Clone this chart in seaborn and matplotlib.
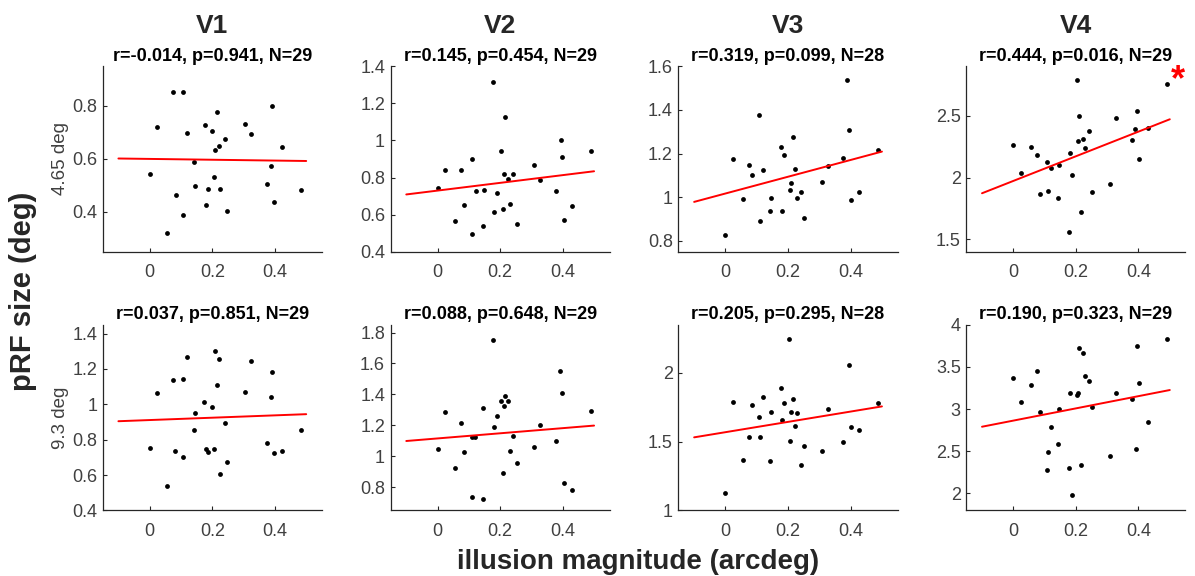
import matplotlib
matplotlib.use("Agg")
import matplotlib.pyplot as plt
import seaborn as sns
import numpy as np

# ---- data: illusion magnitude (x) vs pRF size (y) ----
areas = ["V1", "V2", "V3", "V4"]
ecc_labels = ["4.65 deg", "9.3 deg"]

stats = [
    ["r=-0.014, p=0.941, N=29", "r=0.145, p=0.454, N=29",
     "r=0.319, p=0.099, N=28", "r=0.444, p=0.016, N=29"],
    ["r=0.037, p=0.851, N=29", "r=0.088, p=0.648, N=29",
     "r=0.205, p=0.295, N=28", "r=0.190, p=0.323, N=29"],
]

# 4.65 deg row
x_v1_465 = [0.0, 0.023, 0.073, 0.083, 0.056, 0.105, 0.107, 0.12, 0.14, 0.144, 0.176, 0.18, 0.186, 0.2,
            0.205, 0.208, 0.215, 0.22, 0.226, 0.239, 0.248, 0.305, 0.324, 0.374, 0.387, 0.39, 0.398, 0.423, 0.484]
y_v1_465 = [0.542, 0.722, 0.852, 0.464, 0.322, 0.852, 0.388, 0.697, 0.590, 0.499, 0.730, 0.426, 0.488, 0.705,
            0.532, 0.633, 0.778, 0.650, 0.488, 0.676, 0.404, 0.732, 0.695, 0.504, 0.574, 0.801, 0.437, 0.647, 0.483]

x_v2_465 = [0.0, 0.024, 0.057, 0.075, 0.085, 0.109, 0.11, 0.122, 0.145, 0.147, 0.178, 0.181, 0.189, 0.203,
            0.208, 0.211, 0.216, 0.224, 0.23, 0.242, 0.253, 0.308, 0.328, 0.379, 0.393, 0.396, 0.403, 0.429, 0.49]
y_v2_465 = [0.746, 0.843, 0.564, 0.843, 0.654, 0.899, 0.497, 0.730, 0.539, 0.732, 1.315, 0.616, 0.719, 0.942,
            0.632, 0.820, 1.124, 0.791, 0.656, 0.820, 0.550, 0.867, 0.787, 0.726, 1.0, 0.910, 0.571, 0.647, 0.941]

x_v3_465 = [0.0, 0.024, 0.056, 0.075, 0.084, 0.108, 0.11, 0.121, 0.142, 0.146, 0.177, 0.181, 0.188, 0.207,
            0.21, 0.216, 0.222, 0.228, 0.24, 0.251, 0.307, 0.328, 0.377, 0.389, 0.394, 0.402, 0.428, 0.489]
y_v3_465 = [0.828, 1.175, 0.991, 1.146, 1.101, 1.376, 0.890, 1.123, 0.937, 0.998, 1.230, 0.936, 1.192, 1.035,
            1.067, 1.275, 1.129, 0.994, 1.023, 0.906, 1.071, 1.144, 1.178, 1.537, 1.308, 0.988, 1.023, 1.215]

x_v4_465 = [0.0, 0.024, 0.056, 0.076, 0.084, 0.108, 0.111, 0.122, 0.143, 0.146, 0.178, 0.182, 0.189, 0.202,
            0.207, 0.21, 0.216, 0.224, 0.23, 0.242, 0.253, 0.308, 0.328, 0.38, 0.394, 0.39, 0.403, 0.429, 0.49]
y_v4_465 = [2.267, 2.04, 2.248, 2.186, 1.865, 2.129, 1.889, 2.078, 1.833, 2.105, 1.558, 2.202, 2.022, 2.792,
            2.299, 2.499, 1.722, 2.31, 2.237, 2.377, 1.884, 1.949, 2.482, 2.302, 2.539, 2.394, 2.148, 2.399, 2.757]

# 9.3 deg row
x_v1_93 = [0.0, 0.023, 0.074, 0.082, 0.056, 0.105, 0.107, 0.12, 0.14, 0.144, 0.175, 0.18, 0.186, 0.2,
           0.205, 0.208, 0.215, 0.22, 0.226, 0.239, 0.248, 0.305, 0.324, 0.374, 0.387, 0.39, 0.398, 0.423, 0.484]
y_v1_93 = [0.753, 1.063, 1.135, 0.736, 0.537, 1.142, 0.700, 1.266, 0.856, 0.949, 1.011, 0.750, 0.729, 0.987,
           0.746, 1.302, 1.112, 1.254, 0.605, 0.896, 0.672, 1.070, 1.247, 0.780, 1.040, 1.182, 0.723, 0.736, 0.856]

x_v2_93 = [0.0, 0.024, 0.057, 0.075, 0.085, 0.109, 0.109, 0.121, 0.144, 0.146, 0.178, 0.181, 0.189, 0.203,
           0.208, 0.211, 0.216, 0.224, 0.23, 0.242, 0.253, 0.309, 0.328, 0.379, 0.392, 0.396, 0.403, 0.429, 0.49]
y_v2_93 = [1.05, 1.283, 0.926, 1.215, 1.026, 0.739, 1.126, 1.126, 0.724, 1.309, 1.752, 1.191, 1.259, 1.359,
           0.889, 1.324, 1.391, 1.359, 1.035, 1.133, 0.957, 1.061, 1.204, 1.096, 1.554, 1.407, 0.824, 0.780, 1.293]

x_v3_93 = [0.0, 0.024, 0.056, 0.075, 0.084, 0.108, 0.11, 0.121, 0.142, 0.146, 0.177, 0.181, 0.188, 0.202,
           0.207, 0.21, 0.216, 0.222, 0.23, 0.24, 0.251, 0.307, 0.328, 0.377, 0.394, 0.402, 0.428, 0.489]
y_v3_93 = [1.124, 1.791, 1.367, 1.536, 1.769, 1.680, 1.532, 1.823, 1.362, 1.718, 1.893, 1.660, 1.779, 2.245,
           1.502, 1.718, 1.813, 1.614, 1.711, 1.333, 1.471, 1.434, 1.740, 1.495, 2.058, 1.607, 1.587, 1.782]

x_v4_93 = [0.0, 0.024, 0.056, 0.075, 0.084, 0.109, 0.11, 0.122, 0.143, 0.146, 0.177, 0.181, 0.188, 0.202,
           0.207, 0.21, 0.216, 0.224, 0.23, 0.242, 0.253, 0.308, 0.328, 0.38, 0.392, 0.396, 0.403, 0.429, 0.49]
y_v4_93 = [3.365, 3.087, 3.29, 3.456, 2.968, 2.282, 2.488, 2.790, 2.583, 3.004, 2.306, 3.187, 1.976, 3.171,
           3.187, 3.726, 2.333, 3.671, 3.397, 3.337, 3.02, 2.448, 3.19, 3.119, 2.524, 3.75, 3.31, 2.845, 3.837]

data = [
    [(x_v1_465, y_v1_465), (x_v2_465, y_v2_465), (x_v3_465, y_v3_465), (x_v4_465, y_v4_465)],
    [(x_v1_93, y_v1_93), (x_v2_93, y_v2_93), (x_v3_93, y_v3_93), (x_v4_93, y_v4_93)],
]

# axis limits / ticks per panel
ylims = [
    [(0.25, 0.95), (0.4, 1.4), (0.75, 1.6), (1.4, 2.9)],
    [(0.4, 1.45), (0.65, 1.85), (1.0, 2.35), (1.8, 4.0)],
]
yticks = [
    [[0.4, 0.6, 0.8], [0.4, 0.6, 0.8, 1, 1.2, 1.4], [0.8, 1, 1.2, 1.4, 1.6], [1.5, 2, 2.5]],
    [[0.4, 0.6, 0.8, 1, 1.2, 1.4], [0.8, 1, 1.2, 1.4, 1.6, 1.8], [1, 1.5, 2], [2, 2.5, 3, 3.5, 4]],
]
xticks = [0, 0.2, 0.4]

sns.set_style("ticks")
plt.rcParams['font.family'] = ['Liberation Sans', 'DejaVu Sans']
axis_col = "#262626"

fig, axes = plt.subplots(2, 4, figsize=(11.95, 5.76), dpi=100)
plt.subplots_adjust(left=0.086, right=0.992, top=0.885, bottom=0.114, wspace=0.314, hspace=0.394)

for r in range(2):
    for c in range(4):
        ax = axes[r, c]
        xs, ys = data[r][c]
        sns.scatterplot(x=xs, y=ys, ax=ax, color="black", s=12, linewidth=0)
        # regression line spans -0.1..0.5
        ax.set_xlim(-0.1, 0.5)
        sns.regplot(x=np.array(xs), y=np.array(ys), ax=ax, scatter=False, ci=None, truncate=False,
                    color="red", line_kws={"linewidth": 1.4})
        ax.set_xlim(-0.15, 0.55)
        ax.set_ylim(*ylims[r][c])
        ax.set_xticks(xticks)
        ax.set_xticklabels([f"{t:g}" for t in xticks])
        ax.set_yticks(yticks[r][c])
        ax.set_yticklabels([f"{t:g}" for t in yticks[r][c]])
        ax.tick_params(direction="in", length=3, width=0.8, colors=axis_col, labelsize=13,
                       labelcolor="#404040")
        ax.tick_params(axis="x", pad=9)
        ax.tick_params(axis="y", pad=4)
        for side in ["left", "bottom"]:
            ax.spines[side].set_color(axis_col)
            ax.spines[side].set_linewidth(0.9)
        sns.despine(ax=ax)
        ax.set_xlabel("")
        ax.set_ylabel("")
        ax.set_title(stats[r][c], fontsize=13, fontweight="bold", pad=4, color="black")
        if r == 0:
            ax.text(0.5, 1.216, areas[c], transform=ax.transAxes, ha="center", va="center",
                    fontsize=19, fontweight="bold")
        if c == 0:
            ax.set_ylabel(ecc_labels[r], fontsize=13.5, color="#404040")
            ax.yaxis.set_label_coords(-0.154, 0.5)

# significance marker for V4 at 4.65 deg
axes[0, 3].text(0.968, 0.872, "*", transform=axes[0, 3].transAxes, ha="center", va="baseline",
                fontsize=26, fontweight="bold", color="red")

fig.text(0.019, 0.495, "pRF size (deg)", rotation=90, ha="center", va="center",
         fontsize=21, fontweight="bold")
fig.text(0.534, 0.024, "illusion magnitude (arcdeg)", ha="center", va="center",
         fontsize=20, fontweight="bold")

fig.savefig("out.png", dpi=100)
